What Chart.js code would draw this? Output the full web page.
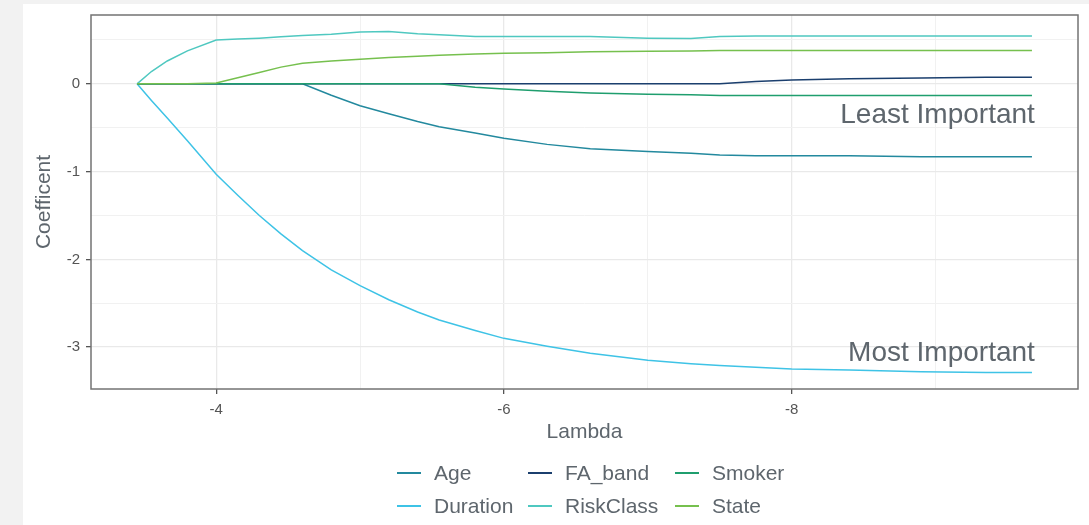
<!DOCTYPE html>
<html>
<head>
<meta charset="utf-8">
<script src="https://cdn.jsdelivr.net/npm/chart.js@4"></script>
<style>
  body { margin: 0; background: #f2f2f2; font-family: "Liberation Sans", Arial, sans-serif; }
  #panel { position: absolute; left: 23px; top: 4px; width: 1066px; height: 521px; background: #fff; }
  #myChart { position: absolute; left: 0; top: 0; }
  .leg { position: absolute; font-size: 21px; color: #5e666d; line-height: 24px; white-space: nowrap; }
  .leg span.sw { position: absolute; left: 0; top: 11px; width: 24px; height: 2px; }
  .leg span.tx { position: absolute; left: 37px; top: 0; }
</style>
</head>
<body>
<div id="panel"></div>
<canvas id="myChart" width="1089" height="525"></canvas>
<div id="legend"></div>
<script>
// lambda grid (log lambda, shared by all series)
var lambda = [-3.45, -3.55, -3.66, -3.8, -4.0, -4.15, -4.3, -4.45, -4.6, -4.8, -5.0, -5.2, -5.4, -5.55,
              -5.8, -6.0, -6.3, -6.6, -7.0, -7.3, -7.5, -7.75, -8.0, -8.4, -8.9, -9.35, -9.67];

var age       = [0, 0, 0, 0, 0, 0, 0, 0, 0, -0.13, -0.25, -0.34, -0.43, -0.49,
                 -0.56, -0.62, -0.69, -0.74, -0.77, -0.79, -0.81, -0.82, -0.82, -0.82, -0.83, -0.83, -0.83];
var duration  = [0, -0.19, -0.39, -0.65, -1.03, -1.27, -1.50, -1.71, -1.90, -2.12, -2.30, -2.46, -2.60, -2.69,
                 -2.81, -2.90, -2.99, -3.07, -3.15, -3.19, -3.21, -3.23, -3.25, -3.26, -3.28, -3.29, -3.29];
var faBand    = [0, 0, 0, 0, 0, 0, 0, 0, 0, 0, 0, 0, 0, 0,
                 0, 0, 0, 0, 0, 0, 0, 0.025, 0.043, 0.057, 0.065, 0.075, 0.075];
var riskClass = [0, 0.14, 0.26, 0.375, 0.5, 0.51, 0.52, 0.535, 0.55, 0.565, 0.59, 0.595, 0.57, 0.56,
                 0.54, 0.54, 0.54, 0.54, 0.52, 0.515, 0.54, 0.545, 0.545, 0.545, 0.545, 0.545, 0.545];
var smoker    = [0, 0, 0, 0, 0, 0, 0, 0, 0, 0, 0, 0, 0, 0,
                 -0.04, -0.06, -0.085, -0.105, -0.118, -0.125, -0.133, -0.133, -0.133, -0.133, -0.133, -0.133, -0.133];
var state     = [0, 0, 0, 0, 0.01, 0.07, 0.13, 0.19, 0.235, 0.26, 0.28, 0.30, 0.315, 0.325,
                 0.34, 0.347, 0.355, 0.365, 0.37, 0.375, 0.38, 0.38, 0.38, 0.38, 0.38, 0.38, 0.38];

var seriesNames  = ['Age', 'Duration', 'FA_band', 'RiskClass', 'Smoker', 'State'];
var seriesValues = [age, duration, faBand, riskClass, smoker, state];
var seriesColors = ['#23899e', '#3ec3e6', '#1b3f6e', '#4fc8c0', '#1f9e6e', '#76c04e'];

var xTicks = [-4, -6, -8];
var yTicks = [0, -1, -2, -3];

var notes = [
  { text: 'Least Important', x: -9.69, y: -0.45 },
  { text: 'Most Important', x: -9.69, y: -3.16 }
];

var fontFamily = '"Liberation Sans", Arial, sans-serif';
var textColor = '#5e666d';

function pts(vals) {
  return lambda.map(function (l, i) { return { x: l, y: vals[i] }; });
}

// first dataset is painted last, so reverse to keep State on top like ggplot
var datasets = [];
for (var i = seriesNames.length - 1; i >= 0; i--) {
  datasets.push({
    label: seriesNames[i],
    data: pts(seriesValues[i]),
    borderColor: seriesColors[i],
    backgroundColor: seriesColors[i],
    borderWidth: 1.5,
    pointRadius: 0,
    tension: 0,
    fill: false
  });
}

var panelBorder = {
  id: 'panelBorder',
  afterDatasetsDraw: function (chart) {
    var a = chart.chartArea, c = chart.ctx;
    c.save();
    c.strokeStyle = '#737373';
    c.lineWidth = 1.5;
    c.strokeRect(a.left, a.top, a.right - a.left, a.bottom - a.top);
    var xs = chart.scales.x, ys = chart.scales.y;
    c.fillStyle = textColor;
    c.font = '28px ' + fontFamily;
    c.textAlign = 'right';
    c.textBaseline = 'alphabetic';
    notes.forEach(function (n) {
      c.fillText(n.text, xs.getPixelForValue(n.x), ys.getPixelForValue(n.y));
    });
    c.restore();
  }
};

function isMajor(v, list) { return list.indexOf(v) !== -1; }

var ctx = document.getElementById('myChart').getContext('2d');

var graphData = {
  type: 'line',
  data: { datasets: datasets },
  options: {
    responsive: false,
    animation: false,
    layout: { padding: { left: 0, top: 14, right: 11, bottom: 76 } },
    plugins: { legend: { display: false }, tooltip: { enabled: false } },
    scales: {
      x: {
        type: 'linear',
        reverse: true,
        min: -9.99,
        max: -3.13,
        afterFit: function (s) { s.height = 60; },
        afterBuildTicks: function (s) {
          s.ticks = [-9, -8, -7, -6, -5, -4].map(function (v) { return { value: v }; });
        },
        border: { display: false },
        grid: {
          color: function (c) { return isMajor(c.tick.value, xTicks) ? '#e9e9e9' : '#f1f1f1'; },
          lineWidth: function (c) { return isMajor(c.tick.value, xTicks) ? 1.3 : 1; },
          tickColor: function (c) { return isMajor(c.tick.value, xTicks) ? '#555' : 'rgba(0,0,0,0)'; },
          tickLength: 5
        },
        ticks: {
          padding: 7,
          color: '#555',
          font: { family: fontFamily, size: 15 },
          maxRotation: 0,
          callback: function (v) { return isMajor(v, xTicks) ? String(v) : ''; }
        },
        title: {
          display: true,
          text: 'Lambda',
          color: textColor,
          font: { family: fontFamily, size: 21 },
          padding: { top: 0, bottom: 4 }
        }
      },
      y: {
        type: 'linear',
        min: -3.477,
        max: 0.784,
        afterFit: function (s) { s.width = 91; },
        afterBuildTicks: function (s) {
          s.ticks = [-3, -2.5, -2, -1.5, -1, -0.5, 0, 0.5].map(function (v) { return { value: v }; });
        },
        border: { display: false },
        grid: {
          color: function (c) { return isMajor(c.tick.value, yTicks) ? '#e9e9e9' : '#f1f1f1'; },
          lineWidth: function (c) { return isMajor(c.tick.value, yTicks) ? 1.3 : 1; },
          tickColor: function (c) { return isMajor(c.tick.value, yTicks) ? '#555' : 'rgba(0,0,0,0)'; },
          tickLength: 5
        },
        ticks: {
          padding: 6,
          color: '#555',
          font: { family: fontFamily, size: 15 },
          callback: function (v) { return isMajor(v, yTicks) ? String(v) : ''; }
        },
        title: {
          display: true,
          text: 'Coefficent',
          color: textColor,
          font: { family: fontFamily, size: 21 },
          padding: { top: 32, bottom: 0 }
        }
      }
    }
  },
  plugins: [panelBorder]
};

var myChart = new Chart(ctx, graphData);

// legend: two rows, filled column by column like ggplot
var legendCols = [397, 528, 675];
var legendRows = [461, 494];
var legendBox = document.getElementById('legend');
seriesNames.forEach(function (name, i) {
  var d = document.createElement('div');
  d.className = 'leg';
  d.style.left = legendCols[Math.floor(i / 2)] + 'px';
  d.style.top = legendRows[i % 2] + 'px';
  d.innerHTML = '<span class="sw" style="background:' + seriesColors[i] + '"></span><span class="tx">' + name + '</span>';
  legendBox.appendChild(d);
});
</script>
</body>
</html>
